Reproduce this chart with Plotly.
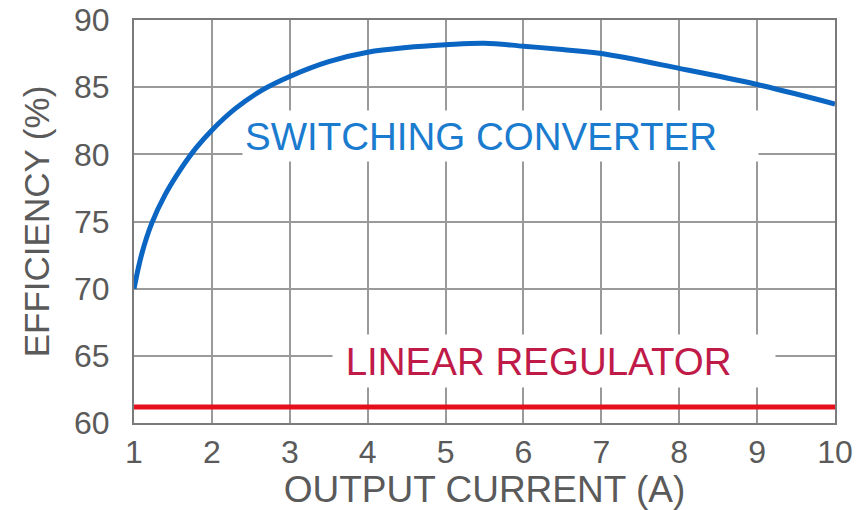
import plotly.graph_objects as go

# Data
current_sw = [1, 1.1, 1.23, 1.4, 1.6, 1.8, 2, 2.3, 2.65, 3, 3.5, 4, 4.5, 5, 5.5, 6, 6.5, 7, 8, 9, 10]
eff_sw = [70, 72.6, 74.9, 77.0, 78.9, 80.5, 81.8, 83.4, 84.8, 85.8, 86.9, 87.6, 87.95, 88.15, 88.27, 88.05, 87.8, 87.5, 86.4, 85.2, 83.75]

current_lin = [1, 10]
eff_lin = [61.2, 61.2]

x_ticks = [1, 2, 3, 4, 5, 6, 7, 8, 9, 10]
y_ticks = [60, 65, 70, 75, 80, 85, 90]

label_sw = "SWITCHING CONVERTER"
label_lin = "\u00a0LINEAR REGULATOR"

FONT = "Liberation Sans, Arial, sans-serif"
GRAY = "#5a5a5a"

fig = go.Figure()
fig.add_trace(go.Scatter(x=current_lin, y=eff_lin, mode="lines",
                         line=dict(color="#e5101c", width=5), showlegend=False,
                         hoverinfo="skip"))
fig.add_trace(go.Scatter(x=current_sw, y=eff_sw, mode="lines",
                         line=dict(color="#0b65c2", width=5, shape="spline", smoothing=1.0),
                         showlegend=False, hoverinfo="skip"))

fig.add_annotation(x=5.705, y=81.37, xref="x", yref="y", text=label_sw,
                   showarrow=False, bgcolor="white", width=511, height=46,
                   align="left", borderpad=2, xanchor="center", yanchor="middle",
                   font=dict(family=FONT, size=38.5, color="#1a7bcf"))
fig.add_annotation(x=6.39, y=64.62, xref="x", yref="y", text=label_lin,
                   showarrow=False, bgcolor="white", width=438, height=48,
                   align="left", borderpad=2, xanchor="center", yanchor="middle",
                   font=dict(family=FONT, size=38.5, color="#c01a48"))

# page body has an 8px margin, so the figure is sized to fit inside the window
fig.update_layout(
    width=856, height=502,
    margin=dict(l=126, r=29, t=12, b=87),
    paper_bgcolor="white", plot_bgcolor="white",
    font=dict(family=FONT, color=GRAY),
)
fig.update_xaxes(range=[1, 10], tickvals=x_ticks, ticktext=[str(v) for v in x_ticks],
                 automargin=False, ticklabeloverflow="allow",
                 showgrid=True, gridcolor="#9a9a9a", gridwidth=2,
                 showline=True, linecolor="#7a7a7a", linewidth=2, mirror=True,
                 zeroline=False, ticks="", ticklabelstandoff=0,
                 tickfont=dict(family=FONT, size=32, color=GRAY),
                 title=dict(text="OUTPUT CURRENT (A)", standoff=2,
                            font=dict(family=FONT, size=37, color=GRAY)))
fig.update_yaxes(range=[60, 90], tickvals=y_ticks, ticktext=[str(v) for v in y_ticks],
                 automargin=False, ticklabeloverflow="allow",
                 showgrid=True, gridcolor="#9a9a9a", gridwidth=2,
                 showline=True, linecolor="#7a7a7a", linewidth=2, mirror=True,
                 zeroline=False, ticks="", ticklabelstandoff=16,
                 tickfont=dict(family=FONT, size=32, color=GRAY),
                 title=dict(text="EFFICIENCY (%)", standoff=14,
                            font=dict(family=FONT, size=35, color=GRAY)))

fig.write_html("out.html")
